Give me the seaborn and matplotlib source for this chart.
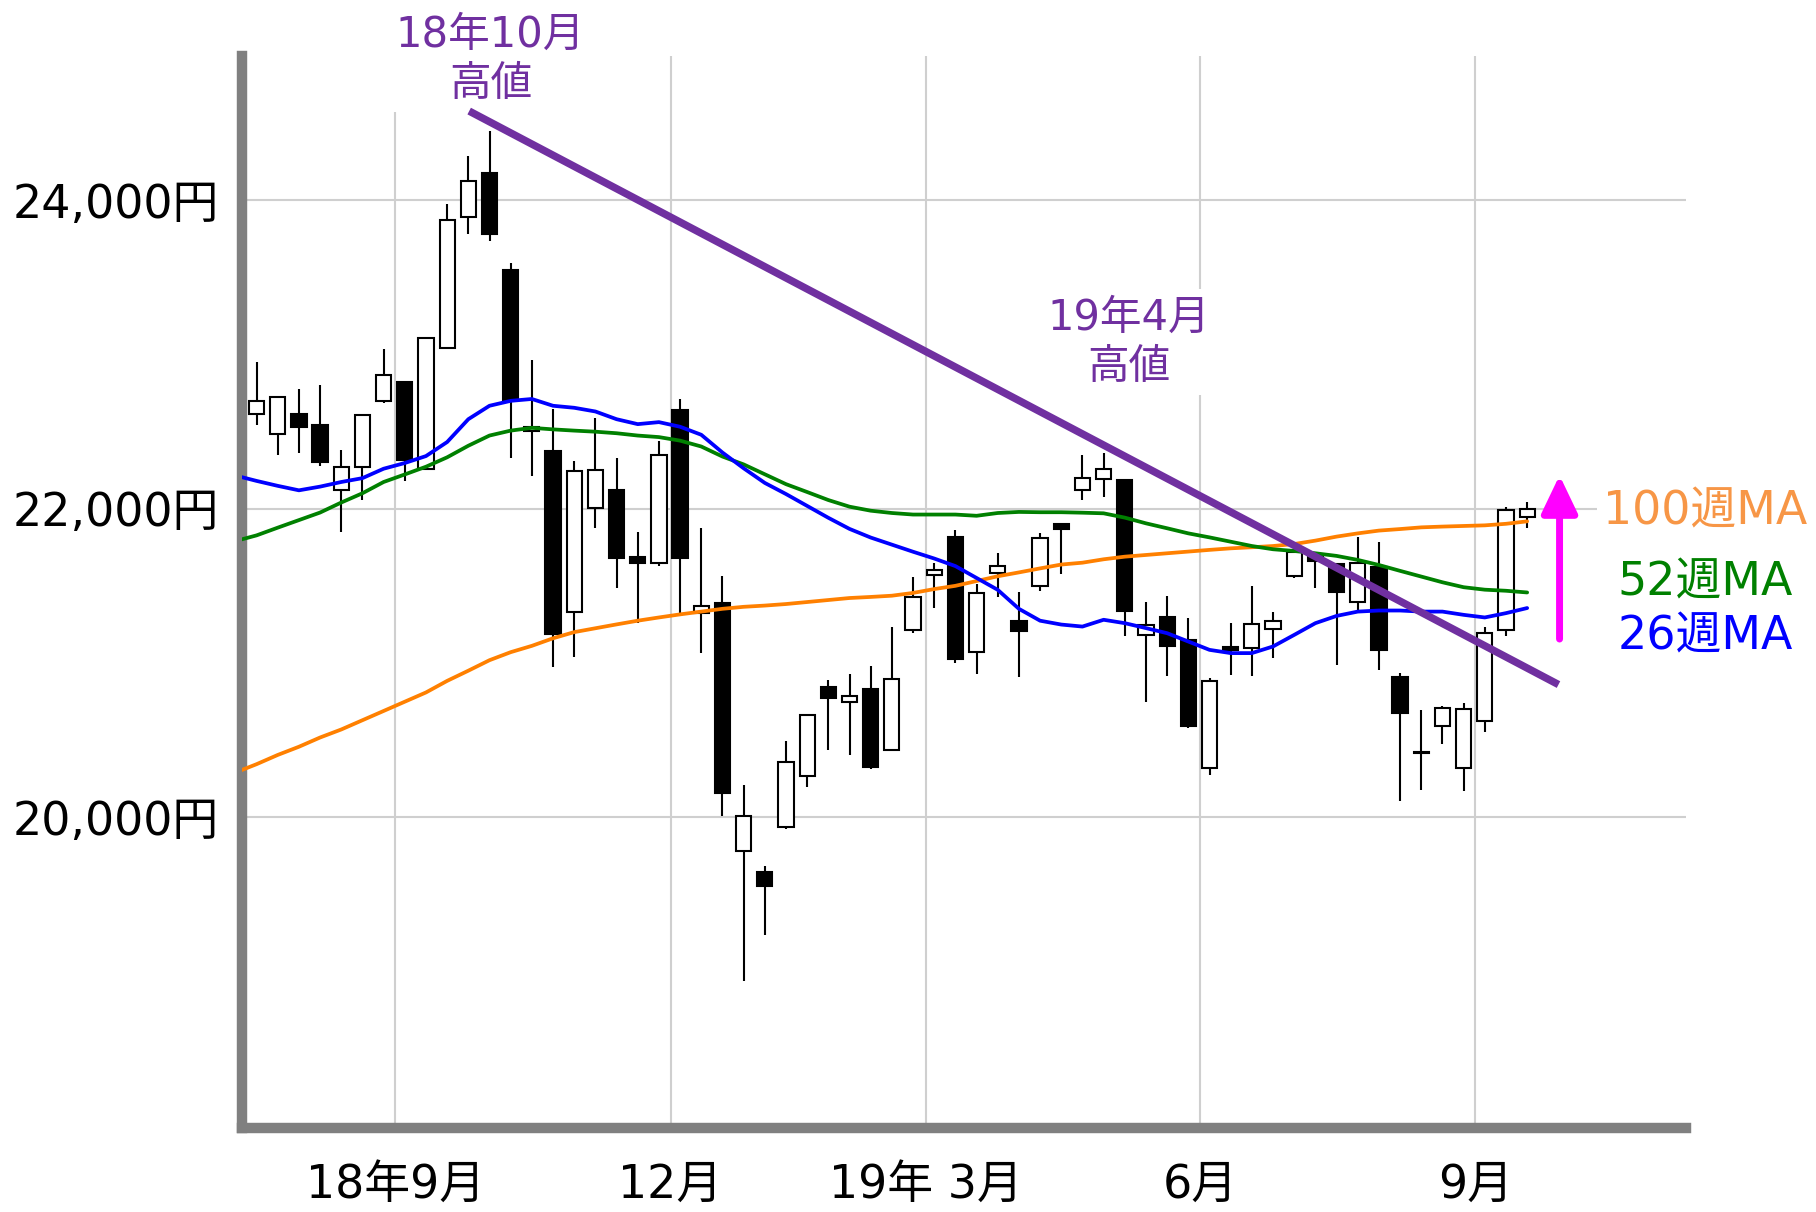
import numpy as np
import pandas as pd
import matplotlib
matplotlib.use("Agg")
import matplotlib.pyplot as plt
import seaborn as sns

# weekly candles (Aug 2018 - Sep 2019)
opens = [22612, 22487, 22612, 22543, 22124, 22272, 22696, 22820, 22259, 23042,
         23889, 24178, 23548, 22506, 22375, 21328, 22005, 22124, 21684, 21650,
         22638, 21326, 21390, 19782, 19646, 19936, 20267, 20846, 20749, 20833,
         20436, 21215, 21569, 21818, 21069, 21582, 21269, 21500, 21903, 22121,
         22190, 22185, 21182, 21301, 21150, 20320, 21103, 21096, 21219, 21564,
         21694, 21642, 21392, 21625, 20909, 20425, 20589, 20320, 20622, 21211,
         21946]
closes = [22696, 22721, 22528, 22301, 22272, 22605, 22869, 22316, 23104, 23872,
          24123, 23783, 22704, 22530, 21190, 22242, 22252, 21679, 21650, 22350,
          21679, 21372, 20159, 20010, 19557, 20356, 20664, 20774, 20787, 20326,
          20897, 21428, 21600, 21023, 21454, 21626, 21210, 21808, 21869, 22196,
          22255, 21340, 21247, 21107, 20594, 20881, 21085, 21254, 21269, 21722,
          21664, 21463, 21651, 21081, 20676, 20418, 20708, 20701, 21193, 21989,
          21998]
highs = [22951, 22721, 22778, 22803, 22383, 22605, 23037, 22820, 23104, 23975,
         24284, 24449, 23593, 22963, 22647, 22309, 22588, 22326, 21852, 22437,
         22710, 21877, 21564, 20210, 19685, 20492, 20664, 20890, 20928, 20979,
         21236, 21556, 21646, 21864, 21510, 21715, 21459, 21844, 21903, 22347,
         22362, 22185, 21398, 21431, 21290, 20902, 21258, 21500, 21333, 21743,
         21720, 21650, 21819, 21786, 20934, 20693, 20723, 20740, 21232, 22011,
         22041]
lows = [22543, 22346, 22358, 22277, 21852, 22054, 22684, 22178, 22250, 23042,
        23783, 23733, 22326, 22210, 20975, 21037, 21872, 21487, 21259, 21630,
        21326, 21064, 20005, 18941, 19236, 19921, 20197, 20433, 20403, 20313,
        20436, 21197, 21356, 20997, 20928, 21428, 20910, 21467, 21574, 22056,
        22073, 21172, 20745, 20913, 20579, 20277, 20924, 20917, 21031, 21549,
        21484, 20988, 21344, 20956, 20104, 20179, 20477, 20169, 20550, 21176,
        21875]

# moving averages, week -1 .. 60
ma26 = [22215, 22180, 22148, 22119, 22143, 22173, 22198, 22259, 22296, 22341, 22432,
        22580, 22667, 22699, 22711, 22667, 22654, 22630, 22580, 22548, 22561,
        22531, 22479, 22364, 22262, 22167, 22095, 22018, 21941, 21869, 21813,
        21767, 21721, 21677, 21628, 21551, 21474, 21351, 21274, 21249, 21236,
        21280, 21258, 21226, 21193, 21139, 21085, 21064, 21064, 21107, 21182,
        21258, 21305, 21333, 21340, 21340, 21333, 21333, 21312, 21295, 21323,
        21356]
ma52 = [21790, 21827, 21877, 21926, 21975, 22040, 22100, 22173, 22222, 22272, 22333,
        22408, 22474, 22506, 22524, 22514, 22506, 22499, 22489, 22474, 22464,
        22441, 22403, 22338, 22287, 22223, 22159, 22108, 22056, 22013, 21987,
        21972, 21962, 21962, 21962, 21954, 21972, 21979, 21977, 21977, 21974,
        21970, 21942, 21905, 21873, 21840, 21814, 21786, 21758, 21737, 21726,
        21711, 21694, 21668, 21635, 21597, 21560, 21523, 21491, 21475, 21468,
        21457]
ma100 = [20290, 20344, 20404, 20457, 20517, 20569, 20629, 20689, 20749, 20809, 20884,
         20950, 21018, 21070, 21111, 21160, 21200, 21225, 21250, 21274, 21295,
         21315, 21333, 21351, 21364, 21372, 21382, 21395, 21408, 21421, 21428,
         21436, 21454, 21479, 21500, 21531, 21562, 21587, 21613, 21638, 21650,
         21672, 21689, 21700, 21711, 21722, 21733, 21743, 21750, 21758, 21771,
         21793, 21819, 21840, 21858, 21868, 21879, 21884, 21888, 21892, 21902,
         21918]

# trend line from the Oct-2018 high, and the breakout arrow
trend_x = [10.04, 61.48]
trend_y = [24577, 20860]
arrow_x = 61.53
arrow_from, arrow_to = 21155, 22216

month_ticks = [6.55, 19.55, 31.6, 44.55, 57.55]
month_labels = ["18年9月", "12月", "19年 3月", "6月", "9月"]
price_ticks = [20000, 22000, 24000]

sns.set_style("white")
plt.rcParams['font.family'] = ['DejaVu Sans', 'Noto Sans CJK JP']
plt.rcParams['text.color'] = 'black'

candles = pd.DataFrame({"open": opens, "close": closes, "high": highs, "low": lows})
candles["week"] = np.arange(len(candles))
ma = pd.DataFrame({"week": np.arange(-1, len(ma26) - 1), "ma26": ma26, "ma52": ma52, "ma100": ma100})

fig = plt.figure(figsize=(18.16, 12.12), dpi=100)
ax = fig.add_axes([0.133, 0.0693, 0.7954, 0.8845])

# candles
up = candles["close"] >= candles["open"]
body_lo = candles[["open", "close"]].min(axis=1)
body_h = (candles["close"] - candles["open"]).abs()
ax.vlines(candles["week"], candles["low"], candles["high"], color="black", lw=1.5, zorder=3)
ax.bar(candles["week"][up], body_h[up], bottom=body_lo[up], width=0.72,
       color="white", edgecolor="black", lw=1.5, zorder=4)
ax.bar(candles["week"][~up], body_h[~up], bottom=body_lo[~up], width=0.72,
       color="black", edgecolor="black", lw=1.5, zorder=4)

# moving averages
sns.lineplot(data=ma, x="week", y="ma100", color="#ff8000", lw=2.7, ax=ax, zorder=5)
sns.lineplot(data=ma, x="week", y="ma52", color="#008000", lw=2.7, ax=ax, zorder=5)
sns.lineplot(data=ma, x="week", y="ma26", color="#0000ff", lw=2.7, ax=ax, zorder=5)

# trend line + arrow
ax.plot(trend_x, trend_y, color="#7030a0", lw=5.4, solid_capstyle="butt", zorder=7)
ax.annotate("", xy=(arrow_x, arrow_to), xytext=(arrow_x, arrow_from),
            arrowprops=dict(arrowstyle="-|>,head_length=2.3,head_width=1.1",
                            color="#ff00ff", lw=5, mutation_scale=10,
                            shrinkA=0, shrinkB=0),
            zorder=8, annotation_clip=False)

# labels
white_box = dict(facecolor="white", edgecolor="none", pad=5)
ax.text(11.05, 24914, "18年10月\n高値", color="#7030a0", fontsize=30,
        ha="center", va="center", linespacing=1.22, bbox=white_box, zorder=6)
ax.text(41.17, 23079, "19年4月\n高値", color="#7030a0", fontsize=30,
        ha="center", va="center", linespacing=1.22, bbox=white_box, zorder=6)
ax.text(63.6, 21978, "100週MA", color="#f79646", fontsize=33,
        ha="left", va="center", bbox=white_box, zorder=6)
ax.text(64.27, 21517, "52週MA", color="#008000", fontsize=33, ha="left", va="center", zorder=6)
ax.text(64.27, 21167, "26週MA", color="#0000ff", fontsize=33, ha="left", va="center", zorder=6)

# axes styling
ax.set_xlim(-0.71, 67.5)
ax.set_ylim(17986, 24934)
ax.set_xticks(month_ticks)
ax.set_xticklabels(month_labels, fontsize=33)
ax.set_yticks(price_ticks)
ax.set_yticklabels([f"{v:,}円" for v in price_ticks], fontsize=33)
ax.set_xlabel("")
ax.set_ylabel("")
ax.grid(True, color="#cfcfcf", lw=1.5, zorder=0)
ax.set_axisbelow(True)
ax.tick_params(axis="x", length=17, width=1.5, color="#cfcfcf", labelcolor="black", pad=8)
ax.tick_params(axis="y", length=0, labelcolor="black", pad=16)
for side in ["top", "right"]:
    ax.spines[side].set_visible(False)
for side in ["left", "bottom"]:
    ax.spines[side].set_color("#808080")
    ax.spines[side].set_linewidth(7.5)

fig.savefig("out.png", dpi=100, facecolor="white")
